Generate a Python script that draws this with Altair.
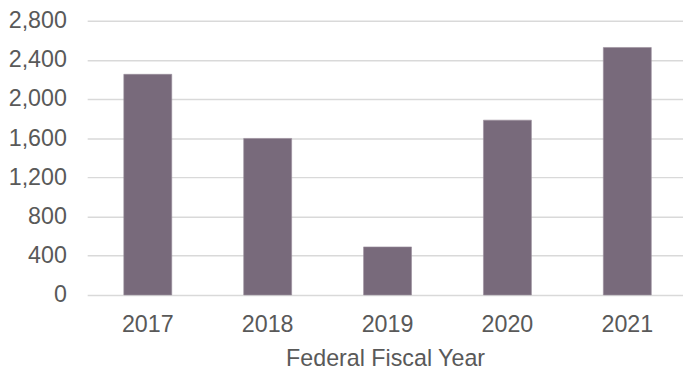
import altair as alt
import pandas as pd

years = ["2017", "2018", "2019", "2020", "2021"]
values = [2253, 1598, 490, 1785, 2527]

df = pd.DataFrame({"year": years, "value": values})

FONT = "Liberation Sans"
GRAY = "#595959"

chart = alt.Chart(df).mark_bar(color="#786a7b", stroke="#9a8e9c", strokeWidth=0.6).encode(
    x=alt.X("year:N", sort=years,
            scale=alt.Scale(paddingInner=0.6, paddingOuter=0.285, align=0.536),
            axis=alt.Axis(title="Federal Fiscal Year", labelAngle=0, ticks=False, domain=False,
                          labelFont=FONT, labelFontSize=23.5, labelColor=GRAY, labelPadding=18,
                          titleFont=FONT, titleFontSize=23.5, titleColor=GRAY, titleFontWeight="normal",
                          titlePadding=11)),
    y=alt.Y("value:Q", scale=alt.Scale(domain=[0, 2800], nice=False),
            axis=alt.Axis(title=None, values=[0, 400, 800, 1200, 1600, 2000, 2400, 2800],
                          format=",d", ticks=False, domain=False, grid=True,
                          gridColor="#d9d9d9", gridWidth=1.5,
                          labelFont=FONT, labelFontSize=23.5, labelColor=GRAY, labelPadding=21)),
).properties(
    width=602, height=277,
    autosize=alt.AutoSizeParams(type="none"),
    padding={"left": 80, "top": 11, "right": 0, "bottom": 74},
).configure_view(stroke=None)

chart.save("out.html", embed_options={"renderer": "svg", "actions": False})
